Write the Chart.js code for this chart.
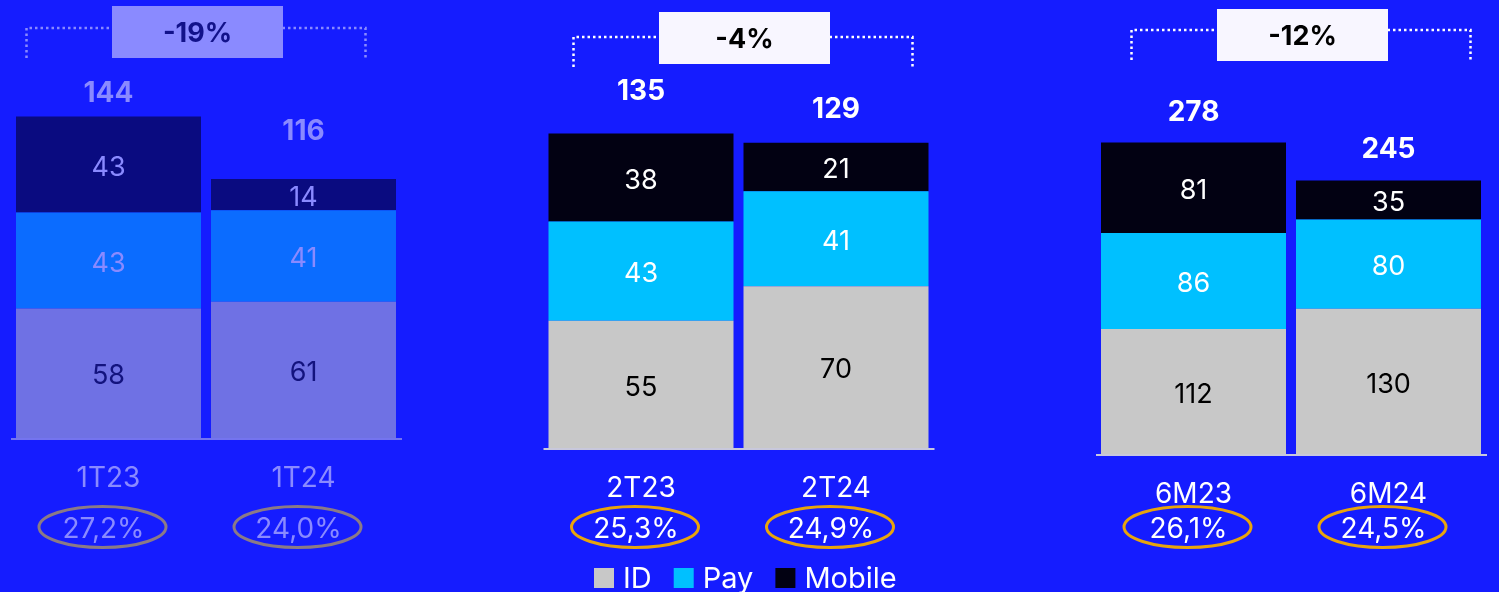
<!DOCTYPE html>
<html>
<head>
<meta charset="utf-8">
<script src="https://cdn.jsdelivr.net/npm/chart.js@4.4.1/dist/chart.umd.min.js"></script>
<style>
  html, body { margin: 0; padding: 0; background: #151cff; width: 1499px; height: 592px; overflow: hidden; }
  canvas { position: absolute; left: 0; top: 0; }
</style>
</head>
<body>
<canvas id="panel0" width="1499" height="592"></canvas>
<canvas id="panel1" width="1499" height="592"></canvas>
<canvas id="panel2" width="1499" height="592"></canvas>
<script>
// datos
const seriesNames = ['ID', 'Pay', 'Mobile'];
const periods = [['1T23', '1T24'], ['2T23', '2T24'], ['6M23', '6M24']];
const idValues = [[58, 61], [55, 70], [112, 130]];
const payValues = [[43, 41], [43, 41], [86, 80]];
const mobileValues = [[43, 14], [38, 21], [81, 35]];
const totals = [[144, 116], [135, 129], [278, 245]];
const changes = ['-19%', '-4%', '-12%'];
const margins = [['27,2%', '24,0%'], ['25,3%', '24,9%'], ['26,1%', '24,5%']];
const yMax = [151.4, 150.5, 317];

const FONT = 'Inter, "Noto Sans", sans-serif';

// el primer bloque va atenuado
const faded = {
  bars: ['#6f71e4', '#0b6cff', '#0a0b80'],
  barText: ['#13137e', '#8a8aff', '#8a8aff'],
  text: '#8a8aff', boxFill: '#8a8aff', boxText: '#12128a',
  dots: '#8a8aff', ring: '#8b7a86', axis: '#7474f0'
};
const normal = {
  bars: ['#c8c8c8', '#00c0ff', '#020112'],
  barText: ['#000000', '#ffffff', '#ffffff'],
  text: '#ffffff', boxFill: '#f8f6ff', boxText: '#000000',
  dots: '#ffffff', ring: '#e8a40c', axis: '#c8c8dc'
};
const themes = [faded, normal, normal];

const layouts = [
  { left: 11, right: 401, base: 438, bx: 196, by: 28, boxTop: 6, totalOff: [23, 47] },
  { left: 543.5, right: 933.5, base: 448, bx: 743, by: 37, boxTop: 12, totalOff: [42, 33] },
  { left: 1096, right: 1486, base: 454, bx: 1301, by: 30, boxTop: 9, totalOff: [30, 31] }
];

function drawLegend(ctx, chart) {
  let x = 594;
  ctx.font = '29px ' + FONT;
  ctx.textAlign = 'left';
  ctx.textBaseline = 'middle';
  chart.data.datasets.forEach(ds => {
    ctx.fillStyle = ds.backgroundColor;
    ctx.fillRect(x, 568, 20, 20);
    ctx.fillStyle = '#ffffff';
    ctx.fillText(ds.label, x + 29, 579);
    x += 29 + ctx.measureText(ds.label).width + 22;
  });
}

function makePanel(i) {
  const theme = themes[i];
  const L = layouts[i];
  const values = [idValues[i], payValues[i], mobileValues[i]];

  const overlay = {
    id: 'overlay' + i,
    afterDatasetsDraw(chart) {
      const ctx = chart.ctx;
      const area = chart.chartArea;
      ctx.save();

      // linea base
      ctx.strokeStyle = theme.axis;
      ctx.lineWidth = 2;
      ctx.beginPath();
      ctx.moveTo(area.left, L.base + 1);
      ctx.lineTo(area.right + 1, L.base + 1);
      ctx.stroke();

      // valores dentro de las barras
      ctx.textAlign = 'center';
      ctx.textBaseline = 'middle';
      ctx.font = '27px ' + FONT;
      chart.data.datasets.forEach((ds, d) => {
        chart.getDatasetMeta(d).data.forEach((bar, j) => {
          ctx.fillStyle = theme.barText[d];
          ctx.fillText(ds.data[j], bar.x, (bar.y + bar.base) / 2 + 3);
        });
      });

      const topMeta = chart.getDatasetMeta(chart.data.datasets.length - 1);
      topMeta.data.forEach((bar, j) => {
        // total
        ctx.font = 'bold 28px ' + FONT;
        ctx.fillStyle = theme.text;
        ctx.fillText(totals[i][j], bar.x, bar.y - L.totalOff[j]);
        // periodo
        ctx.font = '28px ' + FONT;
        ctx.fillText(chart.data.labels[j], bar.x, L.base + 41);
        // margen en elipse
        const cx = bar.x - 6;
        ctx.strokeStyle = theme.ring;
        ctx.lineWidth = 3;
        ctx.beginPath();
        ctx.ellipse(cx, 527, 63.5, 20.5, 0, 0, Math.PI * 2);
        ctx.stroke();
        ctx.fillText(margins[i][j], cx + 1, 530);
      });

      // corchete punteado + caja de variacion
      ctx.strokeStyle = theme.dots;
      ctx.lineWidth = 2.5;
      ctx.setLineDash([2.5, 3]);
      ctx.beginPath();
      ctx.moveTo(L.bx - 169.5, L.by + 30);
      ctx.lineTo(L.bx - 169.5, L.by);
      ctx.lineTo(L.bx + 169.5, L.by);
      ctx.lineTo(L.bx + 169.5, L.by + 30);
      ctx.stroke();
      ctx.setLineDash([]);
      ctx.fillStyle = theme.boxFill;
      ctx.fillRect(L.bx - 84, L.boxTop, 171, 52);
      ctx.fillStyle = theme.boxText;
      ctx.font = 'bold 27px ' + FONT;
      ctx.fillText(changes[i], L.bx + 1.5, L.boxTop + 28);

      if (i === 1) drawLegend(ctx, chart);
      ctx.restore();
    }
  };

  new Chart(document.getElementById('panel' + i), {
    type: 'bar',
    data: {
      labels: periods[i],
      datasets: seriesNames.map((name, d) => ({
        label: name,
        data: values[d],
        backgroundColor: theme.bars[d],
        borderWidth: 0,
        categoryPercentage: 1,
        barPercentage: 0.9487
      }))
    },
    options: {
      responsive: false,
      devicePixelRatio: 1,
      animation: false,
      layout: { padding: { left: L.left, right: 1499 - L.right, top: 100, bottom: 592 - L.base } },
      scales: {
        x: { display: false, stacked: true },
        y: { display: false, stacked: true, min: 0, max: yMax[i] }
      },
      plugins: { legend: { display: false }, tooltip: { enabled: false } }
    },
    plugins: [overlay]
  });
}

[0, 1, 2].forEach(makePanel);
</script>
</body>
</html>
